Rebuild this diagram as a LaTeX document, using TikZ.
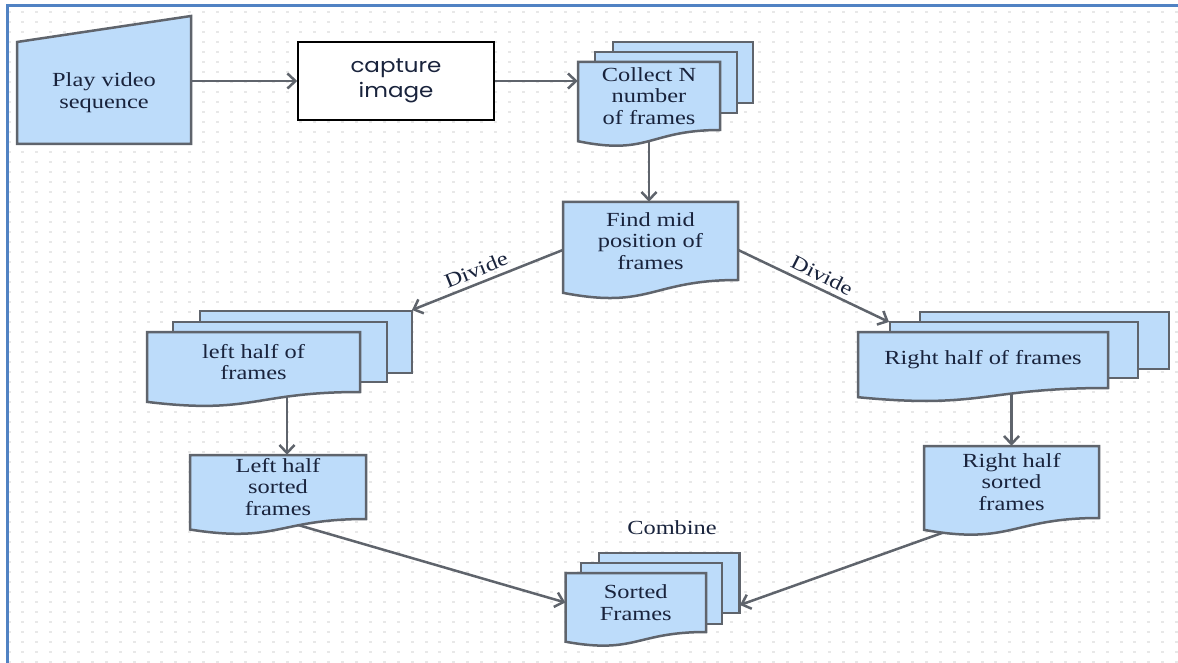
\documentclass[tikz,border=0pt]{standalone}
\usepackage{fontspec}
\setmainfont{Liberation Serif}[FakeStretch=1.22]
\newfontfamily\capfont{Poppins}[FakeStretch=1.15]
\usetikzlibrary{arrows.meta,calc}
\definecolor{fillb}{RGB}{189,220,250}
\definecolor{edgec}{RGB}{95,100,108}
\definecolor{txtc}{RGB}{25,35,60}
\definecolor{frameb}{RGB}{80,130,195}
\definecolor{dotc}{RGB}{232,232,232}
\pgfdeclarelayer{bglayer}
\pgfdeclarelayer{connlayer}
\pgfsetlayers{bglayer,connlayer,main}
\tikzset{
  shp/.style={fill=fillb, draw=edgec, line width=2.5pt, line join=miter},
  lbl/.style={text=txtc, align=center, font=\fontsize{20}{21.7}\selectfont, inner sep=0pt},
  conn/.style={draw=edgec, line width=2.5pt, -{Straight Barb[length=8pt,width=15pt]}},
  plainline/.style={draw=edgec, line width=2.5pt},
  edgelbl/.style={text=txtc, font=\fontsize{20}{22}\selectfont, inner sep=0pt}
}
% document outline: x1 yt x2 yR
\newcommand\mydocpath[4]{%
  \pgfmathsetmacro\mydH{(#4-#2)/0.802}%
  \pgfmathsetmacro\mydxm{(#1+#3)/2}%
  \filldraw[shp] (#1,#2) -- (#3,#2) -- (#3,#4) .. controls (\mydxm,#4) and (\mydxm,#4+0.3056*\mydH) .. (#1,#4+0.132*\mydH) -- cycle;%
}
% named document node: name x1 yt x2 yR text
\newcommand\mydocnode[6]{%
  \mydocpath{#2}{#3}{#4}{#5}%
  \pgfmathsetmacro\mynw{#4-#2}\pgfmathsetmacro\mynh{#5-#3}%
  \node[lbl, minimum width=\mynw pt, minimum height=\mynh pt] (#1) at ({(#2+#4)/2},{(#3+#5)/2}) {#6};%
}
\newcommand\mybackrect[4]{\filldraw[shp] (#1,#2) rectangle (#3,#4);}
\begin{document}
\begin{tikzpicture}[x=1pt,y=-1pt]
\useasboundingbox (0,0) rectangle (1178,663);
\begin{pgfonlayer}{bglayer}
\fill[white] (0,0) rectangle (1178,663);
\foreach \i in {0,...,84}{
  \foreach \j in {0,...,65}{
    \fill[dotc] ({7.5+13.9*\i},{11+10*\j}) rectangle ++(3,2);
  }
}
\draw[frameb, line width=3pt] (7,665) -- (7,6) -- (1180,6);
\end{pgfonlayer}

% Play video sequence (manual input)
\filldraw[shp] (17,42) -- (191,16) -- (191,144) -- (17,144) -- cycle;
\node[lbl, minimum width=174pt, minimum height=102pt] (play) at (104,93) {Play video\\sequence};

% capture image
\node[draw=black, line width=1.5pt, fill=white, minimum width=196pt, minimum height=78pt,
      text=txtc, align=center, inner sep=0pt, font=\capfont\fontsize{20}{25}\selectfont] (cap) at (396,81) {capture\\image};

% Collect N number of frames
\mybackrect{613}{42}{753}{103}
\mybackrect{595}{52}{737}{113}
\mydocnode{collect}{578}{62}{720}{130}{Collect N\\number\\of frames}

% Find mid position
\mydocnode{find}{563}{202}{738}{280}{Find mid\\position of\\frames}

% left half of frames
\mybackrect{200}{311}{412}{373}
\coordinate (lhfcorner) at (412,310);
\mybackrect{173}{322}{387}{382}
\mydocnode{lhf}{147}{332}{360}{392}{left half of\\frames}

% Right half of frames
\mybackrect{920}{312}{1169}{369}
\mybackrect{890}{322}{1138}{378}
\coordinate (rhfcorner) at (889,322);
\mydocnode{rhf}{858}{332}{1108}{388}{Right half of frames}

% Left half sorted frames
\mydocnode{lhs}{190}{455}{366}{519}{Left half\\sorted\\frames}

% Right half sorted frames
\mydocnode{rhs}{924}{446}{1099}{518}{Right half\\sorted\\frames}

% Sorted Frames
\mybackrect{599}{553}{739.5}{613}
\coordinate (srtcorner) at (740,605);
\mybackrect{581}{563}{722}{624}
\mydocnode{srt}{565.5}{573}{706}{632}{Sorted\\Frames}

\node[edgelbl] (combine) at (672,528) {Combine};

% connectors
\begin{pgfonlayer}{connlayer}
\draw[conn] (play.east |- cap.west) -- (cap.west);
\draw[conn] (cap.east) -- (cap.east -| collect.west);
\draw[conn] (collect.south) -- (collect.south |- find.north);
\draw[conn] ($(find.west)+(0,9)$) -- (lhfcorner);
\draw[conn] ($(find.east)+(0,9)$) -- (rhfcorner);
\draw[conn] ([xshift=33.5pt]lhf.south) -- ([xshift=33.5pt]lhf.south |- lhs.north);
\draw[conn] (rhs.north |- rhf.south) -- (rhs.north);
\draw[conn] (lhs.south) -- (srt.west);
\draw[conn] ([xshift=-28pt]rhs.south) -- (srtcorner);
\end{pgfonlayer}

\node[edgelbl, rotate=22] (divl) at (476,270) {Divide};
\node[edgelbl, rotate=-27] (divr) at (822,275) {Divide};
\end{tikzpicture}
\end{document}
